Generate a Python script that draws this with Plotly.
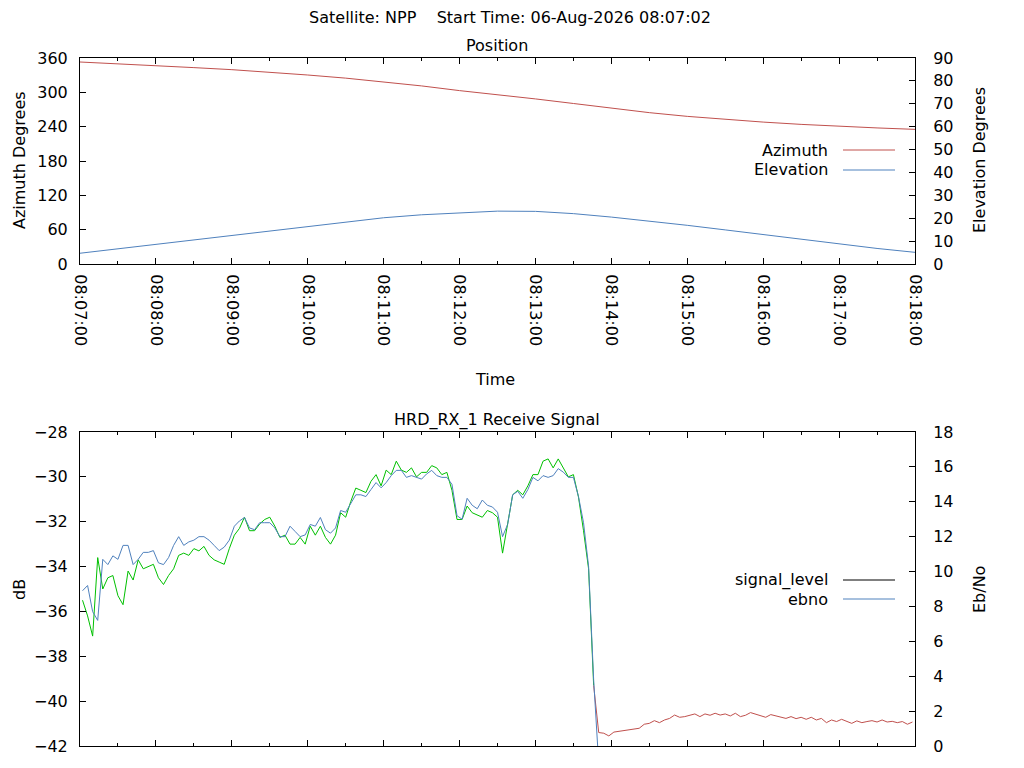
import pandas as pd
import plotly.graph_objects as go

# pass geometry, one sample every 30 s
pos_times = pd.date_range("2026-08-06 08:07:00", "2026-08-06 08:18:00", freq="30s")
azimuth = [353.0, 350.0, 346.5, 343.2, 339.6, 335.2, 330.3, 324.8, 318.6, 311.2,
           303.0, 296.0, 288.5, 280.5, 272.0, 264.5, 258.0, 252.5, 248.0, 244.0,
           240.5, 237.8, 235.3]
elevation = [4.7, 6.6, 8.6, 10.5, 12.4, 14.4, 16.3, 18.3, 20.2, 21.5,
             22.4, 23.1, 23.0, 22.0, 20.5, 18.8, 16.9, 14.9, 12.8, 10.7,
             8.6, 6.8, 5.1]

# receiver log, one sample every 4 s
sig_times = pd.date_range("2026-08-06 08:07:02", periods=165, freq="4s")
signal_locked = [
    -35.5, -36.2, -37.1, -33.6, -35.0, -34.5, -34.4, -35.3, -35.7, -34.2,
    -34.6, -33.7, -34.1, -34.0, -33.9, -34.5, -34.8, -34.4, -34.1, -33.5,
    -33.4, -33.5, -33.2, -33.3, -33.1, -33.5, -33.7, -33.8, -33.9, -33.2,
    -32.6, -32.3, -31.8, -32.4, -32.4, -32.1, -31.9, -31.8, -32.2, -32.7,
    -32.6, -33.0, -33.0, -32.7, -33.0, -32.2, -32.6, -32.2, -32.7, -33.0,
    -32.6, -31.6, -31.8, -31.1, -30.5, -30.6, -30.7, -30.2, -29.9, -30.4,
    -29.7, -29.9, -29.3, -29.7, -29.8, -29.6, -30.0, -29.8, -29.8, -29.5,
    -29.6, -29.9, -29.8, -30.6, -31.9, -31.9, -31.3, -31.6, -31.7, -31.8,
    -31.5, -31.6, -31.8, -33.4, -32.1, -30.8, -30.6, -30.8, -30.4, -29.9,
    -29.9, -29.3, -29.2, -29.6, -29.2, -29.6, -30.0, -29.9, -30.9, -32.4,
    -34.1, -39.3]
signal_unlocked = [
    -41.40, -41.43, -41.55, -41.38, -41.35, -41.29, -41.26, -41.23, -41.21, -41.03,
    -40.99, -40.87, -40.96, -40.84, -40.77, -40.62, -40.72, -40.69, -40.63, -40.57,
    -40.69, -40.57, -40.63, -40.54, -40.62, -40.57, -40.66, -40.54, -40.69, -40.63,
    -40.51, -40.57, -40.63, -40.72, -40.60, -40.66, -40.72, -40.77, -40.69, -40.78,
    -40.72, -40.81, -40.72, -40.84, -40.77, -40.96, -40.84, -40.91, -40.81, -40.91,
    -40.99, -40.88, -40.96, -40.91, -40.87, -40.93, -40.84, -40.93, -40.90, -40.96,
    -40.91, -41.03, -40.93]
ebno = [
    8.9, 9.2, 7.7, 7.2, 10.7, 10.4, 10.9, 10.7, 11.5, 11.5,
    10.4, 10.7, 11.1, 11.1, 11.2, 10.5, 10.4, 10.8, 11.5, 12.0,
    11.5, 11.7, 11.8, 12.0, 12.0, 11.8, 11.5, 11.2, 11.4, 11.8,
    12.6, 12.9, 13.1, 12.5, 12.4, 12.8, 12.8, 12.8, 12.5, 12.0,
    12.0, 12.6, 12.3, 12.0, 12.1, 12.7, 12.6, 13.1, 12.4, 12.2,
    12.5, 13.5, 13.4, 13.9, 14.4, 14.4, 14.3, 14.7, 15.1, 14.8,
    15.1, 15.5, 15.8, 15.8, 15.4, 15.5, 15.4, 15.3, 15.6, 15.8,
    15.5, 15.4, 15.4, 15.0, 13.2, 13.0, 14.2, 13.8, 13.6, 14.1,
    13.8, 13.7, 13.4, 12.0, 12.7, 14.4, 14.6, 14.2, 14.7, 15.4,
    15.2, 15.5, 15.4, 15.5, 15.9, 15.7, 15.4, 15.4, 14.3, 12.8,
    10.3, 3.8, -1.0]

top_names = ["Azimuth", "Elevation"]
bottom_names = ["signal_level", "ebno"]

RED = "#c0504d"
BLUE = "#4f81bd"
GREEN = "#00c000"
FONT = dict(family="DejaVu Sans", size=16, color="black")

n_lock = len(signal_locked)

fig = go.Figure()
fig.add_trace(go.Scatter(x=pos_times, y=azimuth, mode="lines", name=top_names[0],
                         line=dict(color=RED, width=1), xaxis="x", yaxis="y"))
fig.add_trace(go.Scatter(x=pos_times, y=elevation, mode="lines", name=top_names[1],
                         line=dict(color=BLUE, width=1), xaxis="x", yaxis="y2"))
fig.add_trace(go.Scatter(x=sig_times[:n_lock], y=signal_locked, mode="lines",
                         line=dict(color=GREEN, width=1), xaxis="x2", yaxis="y3"))
fig.add_trace(go.Scatter(x=sig_times[n_lock - 1:], y=[signal_locked[-1]] + signal_unlocked,
                         mode="lines", line=dict(color=RED, width=1), xaxis="x2", yaxis="y3"))
fig.add_trace(go.Scatter(x=sig_times[:len(ebno)], y=ebno, mode="lines", name=bottom_names[1],
                         line=dict(color=BLUE, width=1), xaxis="x2", yaxis="y4"))

t0, t1 = "2026-08-06 08:07:00", "2026-08-06 08:18:00"
xcommon = dict(type="date", range=[t0, t1], dtick=60000, tickformat="%H:%M:%S",
               ticks="inside", ticklen=6, tickcolor="black", showline=True,
               linecolor="black", linewidth=1, mirror="ticks", showgrid=False,
               zeroline=False, tickfont=FONT,
               minor=dict(dtick=30000, ticks="inside", ticklen=3, tickcolor="black"))
ycommon = dict(ticks="inside", ticklen=6, tickcolor="black", showline=True,
               linecolor="black", linewidth=1, showgrid=False, zeroline=False,
               tickfont=FONT, ticklabelstandoff=8)

top_dom = [1 - 206 / 688, 1]
bot_dom = [0, 314 / 688]

# the page body adds an 8 px offset, so the figure is 8 px smaller
fig.update_layout(
    width=1016, height=760,
    margin=dict(l=72, r=109, t=50, b=22),
    paper_bgcolor="white", plot_bgcolor="white",
    showlegend=False,
    font=FONT,
    title=dict(text="Satellite: NPP\u00a0\u00a0\u00a0\u00a0Start Time: 06-Aug-2026 08:07:02",
               x=(510 - 8) / 1016, xanchor="center", y=1 - 9 / 760, yanchor="middle",
               yref="container", font=FONT),
    xaxis=dict(xcommon, anchor="y", tickangle=90, ticklabelstandoff=6),
    xaxis2=dict(xcommon, anchor="y3", matches="x", showticklabels=False),
    yaxis=dict(ycommon, domain=top_dom, range=[0, 360], dtick=60, anchor="x"),
    yaxis2=dict(ycommon, domain=top_dom, range=[0, 90], dtick=10, overlaying="y",
                side="right", anchor="x", ticklabelstandoff=14),
    yaxis3=dict(ycommon, domain=bot_dom, range=[-42, -28], dtick=2, anchor="x2"),
    yaxis4=dict(ycommon, domain=bot_dom, range=[0, 18], dtick=2, overlaying="y3",
                side="right", anchor="x2", ticklabelstandoff=14),
)


def py(ypix):
    return (746 - ypix) / 688


def px(xpix):
    return (xpix - 80) / 835


notes = [
    ("Position", px(497), py(46), 0),
    ("HRD_RX_1 Receive Signal", px(497), py(420), 0),
    ("Azimuth Degrees", px(19), py(160), -90),
    ("Elevation Degrees", px(979), py(160), -90),
    ("Time", px(495), py(379), 0),
    ("dB", px(19), py(590), -90),
    ("Eb/No", px(979), py(590), -90),
]
for text, ax, ay, ang in notes:
    fig.add_annotation(text=text, x=ax, y=ay, xref="paper", yref="paper",
                       showarrow=False, textangle=ang, font=FONT,
                       xanchor="center", yanchor="middle")

# gnuplot style keys: label on the left, line sample on the right
keys = [
    (top_names[0], RED, 150),
    (top_names[1], BLUE, 170),
    (bottom_names[0], "black", 580),
    (bottom_names[1], BLUE, 599),
]
for text, color, ypix in keys:
    fig.add_annotation(text=text, x=px(830), y=py(ypix), xref="paper", yref="paper",
                       showarrow=False, font=FONT, xanchor="right", yanchor="middle")
    fig.add_shape(type="line", xref="paper", yref="paper", x0=px(843), x1=px(895),
                  y0=py(ypix), y1=py(ypix), line=dict(color=color, width=1))

fig.write_html("out.html")
